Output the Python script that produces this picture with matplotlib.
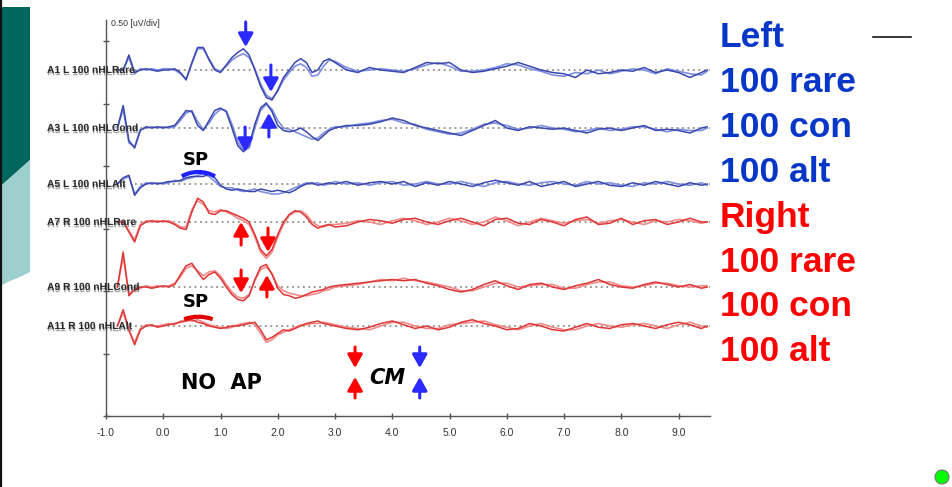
import numpy as np
import matplotlib
matplotlib.use("Agg")
import matplotlib.pyplot as plt
from matplotlib.patches import Arc, Polygon, Ellipse
from matplotlib.lines import Line2D
from matplotlib.transforms import blended_transform_factory
import matplotlib.patheffects as pe

# ---------------- data ----------------
# time axis of the recording (ms)
time_ms = ([-0.8] + [round(-0.7 + 0.1 * i, 1) for i in range(38)]
           + [round(3.2 + 0.2 * i, 1) for i in range(32)] + [9.5])

# amplitudes (uV) relative to each channel baseline; two replicates (a, b) per channel
left_rare_a = [0,
    0, 0.12, -0.02, 0, 0.01, 0, -0.01, 0, 0, 0.01,
    -0.02, -0.08, 0.06, 0.18, 0.18, 0.08, 0, -0.02, 0.04, 0.10,
    0.14, 0.17, 0.12, 0, -0.13, -0.22, -0.24, -0.16, -0.06, 0,
    0.06, 0.09, 0.06, -0.02, 0, 0.07, 0.09, 0.06,
    0, -0.02, 0.02, 0, -0.01, -0.02, 0.02, 0.06, 0.05, 0.06,
    0, -0.02, -0.01, 0.01, 0.03, 0.06, 0.03, 0, -0.02, -0.03,
    -0.06, 0, -0.03, -0.02, 0, -0.01, 0.02, -0.02, 0, -0.02,
    -0.06, -0.02, 0]
left_rare_b = [0,
    0, 0.10, -0.03, 0.01, 0, 0.01, 0, 0.01, 0.01, 0,
    -0.03, -0.07, 0.05, 0.17, 0.17, 0.09, 0.01, -0.01, 0.03, 0.08,
    0.11, 0.13, 0.10, 0.01, -0.11, -0.20, -0.23, -0.17, -0.08, -0.02,
    0.03, 0.05, 0.02, -0.05, -0.04, 0.03, 0.08, 0.07,
    0.02, -0.01, 0, 0.01, 0, -0.01, 0.01, 0.04, 0.06, 0.03,
    -0.01, -0.01, 0, 0.02, 0.05, 0.04, 0.01, -0.01, -0.04, -0.05,
    -0.02, -0.03, 0, -0.03, -0.01, 0.01, 0, -0.03, 0.01, -0.01,
    -0.03, -0.04, -0.01]
left_cond_a = [0,
    0.18, -0.10, -0.16, -0.02, 0.01, 0, 0.01, 0, 0.01, 0.02,
    0.08, 0.14, 0.13, 0.02, -0.02, 0.06, 0.14, 0.16, 0.13, 0,
    -0.14, -0.19, -0.14, 0.03, 0.16, 0.20, 0.13, 0.02, -0.02, -0.03,
    -0.02, 0, -0.03, -0.07, -0.10, -0.06, -0.02, 0,
    0.02, 0.02, 0.03, 0.05, 0.08, 0.06, 0.02, 0, -0.02, -0.04,
    -0.06, -0.02, 0.02, 0.06, 0, -0.02, 0.01, 0, -0.01, 0,
    -0.02, -0.04, -0.01, 0, -0.02, 0, 0.02, -0.02, -0.01, -0.02,
    -0.04, 0, 0.01]
left_cond_b = [0,
    0.15, -0.12, -0.15, -0.01, 0, 0.01, 0, 0.01, 0, 0.01,
    0.06, 0.12, 0.14, 0.05, -0.01, 0.04, 0.11, 0.15, 0.14, 0.03,
    -0.11, -0.18, -0.16, 0, 0.14, 0.19, 0.15, 0.06, 0, -0.01,
    -0.03, -0.05, -0.07, -0.09, -0.08, -0.04, -0.01, 0.01,
    0.01, 0.03, 0.04, 0.06, 0.07, 0.04, 0.03, -0.01, -0.03, -0.05,
    -0.04, -0.01, 0.03, 0.04, 0.02, -0.01, 0, 0.02, 0, -0.01,
    -0.03, -0.02, 0, -0.02, -0.01, 0.01, 0.01, -0.01, -0.03, -0.01,
    -0.02, -0.02, 0]
left_alt_a = [0,
    0.05, 0.07, -0.09, -0.03, 0, 0.01, 0, 0.01, 0.02, 0.02,
    0.03, 0.05, 0.06, 0.06, 0.06, 0.08, 0.05, -0.01, -0.04, -0.05,
    -0.04, -0.05, -0.06, -0.06, -0.04, -0.05, -0.06, -0.05, -0.06, -0.07,
    -0.05, -0.02, 0, 0.01, -0.01, 0, 0.01, 0,
    0.02, -0.01, 0.01, 0.02, 0, 0.02, -0.02, 0.01, -0.01, 0.02,
    0, -0.02, 0.01, 0.03, 0.01, -0.01, 0.02, -0.02, 0, 0.02,
    -0.02, 0, 0.02, -0.01, -0.02, 0.01, -0.01, 0.02, 0, -0.02,
    0.01, -0.01, 0]
left_alt_b = [0,
    0.04, 0.06, -0.08, -0.02, 0.01, 0, 0.01, 0, 0.01, 0.03,
    0.02, 0.04, 0.05, 0.07, 0.08, 0.06, 0.02, -0.02, -0.03, -0.03,
    -0.05, -0.06, -0.05, -0.04, -0.06, -0.07, -0.08, -0.08, -0.07, -0.05,
    -0.03, -0.01, 0.01, 0, 0.01, -0.01, 0, 0.02,
    0, 0.01, -0.01, 0.01, 0.02, -0.01, 0, 0.02, 0, 0,
    0.02, 0, -0.02, 0.01, 0.02, 0, -0.01, 0.01, 0.02, 0,
    -0.01, 0.02, 0, 0.01, -0.01, -0.02, 0.01, 0, 0.02, 0,
    -0.01, 0.01, -0.01]
right_rare_a = [0,
    0, -0.08, -0.16, -0.03, 0, 0.01, 0, 0.01, 0, -0.02,
    -0.05, -0.06, 0.08, 0.19, 0.16, 0.07, 0.06, 0.09, 0.09, 0.07,
    0.05, 0.03, 0, -0.10, -0.22, -0.27, -0.22, -0.10, 0, 0.06,
    0.09, 0.08, 0.04, -0.02, -0.05, -0.03, -0.02, -0.04,
    -0.03, 0, 0.02, 0.01, -0.01, 0.02, 0.03, 0, -0.02, 0.01,
    0.03, 0, -0.03, 0.02, 0.03, -0.01, -0.02, 0.02, 0, -0.03,
    0.02, 0.04, -0.02, -0.01, 0.03, -0.02, 0.01, 0.02, -0.02, 0,
    0.03, 0, 0]
right_rare_b = [0,
    0.01, -0.07, -0.14, -0.02, 0.01, 0, 0.01, 0, 0.01, -0.01,
    -0.04, -0.04, 0.10, 0.17, 0.14, 0.09, 0.08, 0.10, 0.08, 0.06,
    0.03, 0.01, -0.02, -0.12, -0.24, -0.29, -0.24, -0.12, -0.02, 0.05,
    0.08, 0.09, 0.06, 0, -0.03, -0.04, -0.02, -0.02,
    -0.01, 0.01, 0, -0.02, 0.01, 0.03, 0.01, -0.02, 0, 0.03,
    0.01, -0.02, 0, 0.04, 0.01, -0.03, 0, 0.03, 0.01, -0.01,
    0.01, 0.02, -0.01, 0.01, 0.02, 0, -0.02, 0.01, 0, 0.02,
    0.01, -0.01, 0]
right_cond_a = [0,
    0.28, -0.07, -0.02, 0, 0, -0.01, 0, 0.01, 0, 0.02,
    0.10, 0.17, 0.19, 0.12, 0.06, 0.10, 0.12, 0.07, 0, -0.06,
    -0.10, -0.11, -0.07, 0.06, 0.16, 0.18, 0.10, -0.01, -0.06, -0.07,
    -0.09, -0.08, -0.06, -0.04, -0.03, -0.02, 0, 0.01,
    0.02, 0.03, 0.04, 0.05, 0.06, 0.05, 0.06, 0.03, 0.01, -0.02,
    -0.04, -0.02, 0.02, 0.05, 0.01, -0.02, 0.02, 0.03, 0, -0.02,
    0.01, 0.03, 0.06, 0.02, 0, -0.01, 0.02, 0.04, 0.02, 0,
    0.02, -0.01, 0]
right_cond_b = [0,
    0.24, -0.05, -0.03, -0.01, 0.01, 0, 0.01, 0, 0.01, 0.03,
    0.08, 0.15, 0.17, 0.13, 0.09, 0.12, 0.13, 0.09, 0.02, -0.04,
    -0.08, -0.09, -0.06, 0.05, 0.14, 0.16, 0.11, 0.01, -0.03, -0.05,
    -0.06, -0.07, -0.07, -0.06, -0.05, -0.03, -0.02, 0,
    0.01, 0.02, 0.04, 0.06, 0.05, 0.07, 0.05, 0.04, 0.02, 0,
    -0.03, -0.03, 0, 0.03, 0.03, 0, 0.01, 0.02, 0.02, -0.01,
    -0.01, 0.02, 0.04, 0.04, 0.01, 0, 0.01, 0.03, 0.03, 0.01,
    0, 0.01, 0.01]
right_alt_a = [0,
    0.13, -0.03, -0.15, -0.03, 0, 0.01, -0.01, 0, 0.01, 0.02,
    0.03, 0.04, 0.05, 0.03, 0.02, 0, -0.01, -0.02, -0.01, 0,
    0, 0.01, 0.02, 0.03, -0.03, -0.11, -0.09, -0.06, -0.03, -0.04,
    -0.02, 0, 0.02, 0.03, 0.04, 0.02, 0.01, 0,
    -0.02, -0.03, -0.01, 0.02, 0.04, 0.01, -0.02, 0, -0.03, -0.01,
    0.03, 0.05, 0.02, 0, -0.03, -0.02, 0.02, 0, -0.03, -0.04,
    -0.01, 0.02, -0.01, -0.02, 0.01, 0.02, 0, -0.02, 0.01, 0.03,
    0.01, -0.02, 0]
right_alt_b = [0,
    0.11, -0.04, -0.13, -0.02, 0.01, 0, 0, 0.01, 0.02, 0.01,
    0.04, 0.05, 0.04, 0.05, 0.03, 0.01, 0, -0.01, -0.02, -0.01,
    0.01, 0.02, 0.03, 0.01, -0.06, -0.13, -0.11, -0.07, -0.05, -0.03,
    -0.01, 0.01, 0.01, 0.02, 0.02, 0.03, 0.02, 0.01,
    -0.01, -0.02, -0.03, 0, 0.03, 0.03, 0, -0.02, -0.02, 0.01,
    0.02, 0.03, 0.04, 0.01, -0.01, -0.03, 0, 0.02, -0.01, -0.03,
    -0.03, 0, 0.02, 0, -0.01, 0.01, 0.02, 0, -0.02, 0.01,
    0.03, 0, -0.01]

# channel baselines (uV on the display axis, 0.50 uV/div)
channel_baselines = [2.768, 2.304, 1.856, 1.552, 1.032, 0.72]
channel_labels = ["A1 L 100 nHLRare", "A3 L 100 nHLCond", "A5 L 100 nHLAlt",
                  "A7 R 100 nHLRare", "A9 R 100 nHLCond", "A11 R 100 nHLAlt"]
channel_sides = ["L", "L", "L", "R", "R", "R"]
series = [(left_rare_a, left_rare_b), (left_cond_a, left_cond_b), (left_alt_a, left_alt_b),
          (right_rare_a, right_rare_b), (right_cond_a, right_cond_b), (right_alt_a, right_alt_b)]

x_tick_values = [-1, 0, 1, 2, 3, 4, 5, 6, 7, 8, 9]
x_tick_labels = ["-1.0", "0.0", "1.0", "2.0", "3.0", "4.0", "5.0", "6.0", "7.0", "8.0", "9.0"]

legend_lines = ["Left", "100 rare", "100 con", "100 alt", "Right", "100 rare", "100 con", "100 alt"]
legend_sides = ["L", "L", "L", "L", "R", "R", "R", "R"]

# annotation arrows: (time, tail, tip, side)
wave_arrows = [(1.44, 3.152, 2.952, "L"), (1.88, 2.808, 2.592, "L"),
               (1.43, 2.312, 2.112, "L"), (1.845, 2.232, 2.424, "L"),
               (1.36, 1.368, 1.552, "R"), (1.83, 1.504, 1.312, "R"),
               (1.36, 1.168, 0.984, "R"), (1.81, 0.952, 1.128, "R"),
               (3.35, 0.552, 0.384, "R"), (3.35, 0.144, 0.312, "R"),
               (4.48, 0.552, 0.384, "L"), (4.48, 0.144, 0.312, "L")]

# ---------------- styling ----------------
ARIAL = ["Liberation Sans", "DejaVu Sans"]
trace_cols = {"L": ("#3a48ad", "#7f8ee0"), "R": ("#de3636", "#f28a8a")}
arrow_cols = {"L": "#2a2aff", "R": "#ff0000"}
legend_cols = {"L": "#0636c8", "R": "#ff0000"}

W, H = 952, 487
fig = plt.figure(figsize=(W / 100, H / 100), dpi=100)
fig.patch.set_facecolor("white")

def fx(px):
    return px / W

def fy(py):
    return 1 - py / H

# slide decoration at the left edge
fig.add_artist(Polygon([(fx(2), fy(7)), (fx(30), fy(7)), (fx(30), fy(160)), (fx(2), fy(185))],
                       closed=True, transform=fig.transFigure, fc="#00675f", ec="none"))
fig.add_artist(Polygon([(fx(2), fy(185)), (fx(30), fy(160)), (fx(30), fy(272)), (fx(20), fy(277)),
                        (fx(10), fy(281)), (fx(2), fy(285))],
                       closed=True, transform=fig.transFigure, fc="#9dcfcf", ec="none"))
fig.add_artist(Line2D([fx(1), fx(1)], [0, 1], transform=fig.transFigure, color="#111111", lw=1.6))

ax = fig.add_axes([fx(106), 1 - 416 / H, 604 / W, 396 / H])
ax.set_xlim(-1, 9.55)
ax.set_ylim(0, 3.168)
ax.set_facecolor("none")
for s in ["top", "right"]:
    ax.spines[s].set_visible(False)
for s in ["left", "bottom"]:
    ax.spines[s].set_color("#555555")
    ax.spines[s].set_linewidth(1.0)

ax.set_xticks(x_tick_values)
ax.set_xticklabels(x_tick_labels)
ax.set_yticks(np.arange(0, 3.01, 0.5))
ax.set_yticklabels([])
ax.tick_params(axis="x", direction="inout", length=5, width=1, colors="#555555",
               labelcolor="#333333", labelsize=7.5, pad=6)
ax.tick_params(axis="y", direction="inout", length=5, width=1, colors="#555555")
for lbl in ax.get_xticklabels():
    lbl.set_family(ARIAL)

t = np.array(time_ms)
for base, (a, b), side in zip(channel_baselines, series, channel_sides):
    ax.plot([-0.5, 9.55], [base, base], color="#8f8f84", lw=1.3,
            linestyle=(0, (1.0, 2.0)), zorder=1)
    ca, cb = trace_cols[side]
    ax.plot(t, base + np.array(b), color=cb, lw=1.2, zorder=2, solid_joinstyle="round")
    ax.plot(t, base + np.array(a), color=ca, lw=1.1, zorder=3, solid_joinstyle="round")

# channel labels (double-printed look through a shadow effect)
lab_tr = blended_transform_factory(fig.transFigure, ax.transData)
for base, lab in zip(channel_baselines, channel_labels):
    ax.text(fx(47), base, lab, transform=lab_tr, fontsize=7.4, fontweight="bold",
            family=ARIAL, color="#2b2b2b", va="center", ha="left", clip_on=False,
            path_effects=[pe.withSimplePatchShadow(offset=(0.3, -1.6), shadow_rgbFace="#555555",
                                                   alpha=0.55)])

fig.text(fx(111), fy(24), "0.50 [uV/div]", fontsize=6.3, family=ARIAL, color="#333333",
         va="center", ha="left")

# arrows
for x, y0, y1, side in wave_arrows:
    ax.annotate("", xy=(x, y1), xytext=(x, y0),
                arrowprops=dict(arrowstyle="-|>,head_width=0.45,head_length=0.8",
                                color=arrow_cols[side], lw=2.2, shrinkA=0, shrinkB=0,
                                mutation_scale=10),
                annotation_clip=False, zorder=6)

# SP arcs and labels
ax.add_patch(Arc((0.614, 1.812), 0.872, 0.28, theta1=20, theta2=160, color="#2020ff", lw=3.0, zorder=5))
ax.add_patch(Arc((0.614, 0.684), 0.872, 0.22, theta1=20, theta2=160, color="#e00000", lw=3.0, zorder=5))
ax.text(0.573, 2.048, "SP", fontsize=13, fontweight="bold", color="black", ha="center", va="center")
ax.text(0.573, 0.912, "SP", fontsize=13, fontweight="bold", color="black", ha="center", va="center")
ax.text(1.01, 0.264, "NO  AP", fontsize=15, fontweight="bold", color="black", ha="center", va="center")
ax.text(3.92, 0.304, "CM", fontsize=15, fontweight="bold", style="italic", color="black",
        ha="center", va="center")

# right-hand legend text
for i, (txt, side) in enumerate(zip(legend_lines, legend_sides)):
    fig.text(fx(720), fy(47 + 44.9 * i), txt, fontsize=25.5, fontweight="bold",
             family=ARIAL, color=legend_cols[side], ha="left", va="baseline")

fig.add_artist(Line2D([fx(873), fx(911)], [fy(37), fy(37)], transform=fig.transFigure,
                      color="black", lw=1.1))
fig.add_artist(Ellipse((fx(942), fy(477)), 14 / W, 14 / H, transform=fig.transFigure,
                       fc="#00ff00", ec="#777777", lw=0.8))

fig.savefig("out.png", dpi=100)
